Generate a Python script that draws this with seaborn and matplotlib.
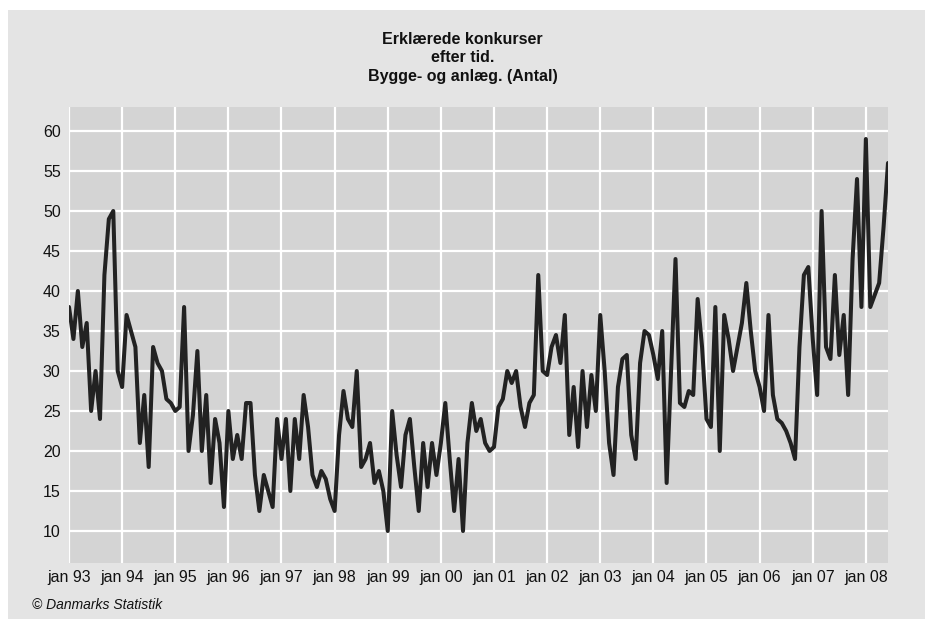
import matplotlib
matplotlib.use("Agg")
import matplotlib.pyplot as plt
import seaborn as sns
import pandas as pd
import numpy as np
from matplotlib.patches import Rectangle

# ---- data (monthly, jan 1993 - jun 2008) ----
v1993 = [38, 34, 40, 33, 36, 25, 30, 24, 42, 49, 50, 30]
v1994 = [28, 37, 35, 33, 21, 27, 18, 33, 31, 30, 26.5, 26]
v1995 = [25, 25.5, 38, 20, 24.5, 32.5, 20, 27, 16, 24, 21, 13]
v1996 = [25, 19, 22, 19, 26, 26, 17, 12.5, 17, 15, 13, 24]
v1997 = [19, 24, 15, 24, 19, 27, 23, 17, 15.5, 17.5, 16.5, 14]
v1998 = [12.5, 22, 27.5, 24, 23, 30, 18, 19, 21, 16, 17.5, 15]
v1999 = [10, 25, 19.5, 15.5, 22, 24, 18, 12.5, 21, 15.5, 21, 17]
v2000 = [21, 26, 19, 12.5, 19, 10, 21, 26, 22.5, 24, 21, 20]
v2001 = [20.5, 25.5, 26.5, 30, 28.5, 30, 25.5, 23, 26, 27, 42, 30]
v2002 = [29.5, 33, 34.5, 31, 37, 22, 28, 20.5, 30, 23, 29.5, 25]
v2003 = [37, 30, 21, 17, 28, 31.5, 32, 22, 19, 31, 35, 34.5]
v2004 = [32, 29, 35, 16, 30, 44, 26, 25.5, 27.5, 27, 39, 33]
v2005 = [24, 23, 38, 20, 37, 34, 30, 33, 36, 41, 35, 30]
v2006 = [28, 25, 37, 27, 24, 23.5, 22.5, 21, 19, 33, 42, 43]
v2007 = [34, 27, 50, 33, 31.5, 42, 32, 37, 27, 44, 54, 38]
v2008 = [59, 38, 39.5, 41, 48, 56]

values = (v1993 + v1994 + v1995 + v1996 + v1997 + v1998 + v1999 + v2000 +
          v2001 + v2002 + v2003 + v2004 + v2005 + v2006 + v2007 + v2008)
tick_labels = ["jan 93", "jan 94", "jan 95", "jan 96", "jan 97", "jan 98",
               "jan 99", "jan 00", "jan 01", "jan 02", "jan 03", "jan 04",
               "jan 05", "jan 06", "jan 07", "jan 08"]
y_ticks = [10, 15, 20, 25, 30, 35, 40, 45, 50, 55, 60]
title = "Erklærede konkurser\nefter tid.\nBygge- og anlæg. (Antal)"
footer = "© Danmarks Statistik"

df = pd.DataFrame({"month": np.arange(len(values)), "antal": values})

sns.set_style("white")
plt.rcParams["font.family"] = ["Liberation Sans", "DejaVu Sans"]

W, H = 925, 619
fig = plt.figure(figsize=(W / 100, H / 100), dpi=100, facecolor="white")
fig.patches.append(Rectangle((8 / W, 0), 1 - 8 / W, 1 - 10 / H,
                             transform=fig.transFigure, facecolor="#e4e4e4",
                             edgecolor="none", zorder=-10))

left, right, top, bottom = 69, 888, 107, 563
ax = fig.add_axes([left / W, 1 - bottom / H, (right - left) / W, (bottom - top) / H])
ax.set_facecolor("#d4d4d4")

sns.lineplot(data=df, x="month", y="antal", ax=ax, color="#222222",
             linewidth=2.9, zorder=3)

ax.set_xlim(0, len(values) - 1)
ax.set_ylim(6, 63)
ax.set_xticks(np.arange(len(tick_labels)) * 12)
ax.set_xticklabels(tick_labels)
ax.set_yticks(y_ticks)
ax.set_yticklabels([str(t) for t in y_ticks])
ax.grid(True, color="white", linewidth=1.6, zorder=0)
ax.set_axisbelow(True)
ax.tick_params(axis="both", length=0, labelsize=11.5, colors="#111111")
ax.tick_params(axis="x", pad=5)
ax.tick_params(axis="y", pad=6)
for s in ax.spines.values():
    s.set_visible(False)
ax.set_xlabel("")
ax.set_ylabel("")

fig.text(0.5, 1 - 58 / H, title, ha="center", va="center", fontsize=11.5,
         fontweight="bold", linespacing=1.3, color="#111111")
fig.text(32 / W, 1 - 605 / H, footer, ha="left", va="center", fontsize=10,
         style="italic", color="#111111")

fig.savefig("out.png", dpi=100, facecolor="white")
